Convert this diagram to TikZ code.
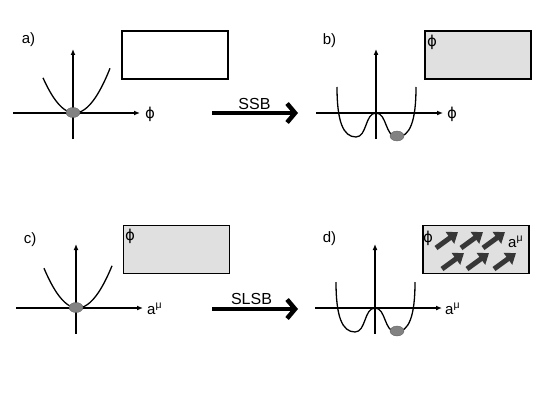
\documentclass[tikz,border=0pt]{standalone}
\usepackage{fontspec}
\setmainfont{Liberation Sans}
\newfontfamily\phifont{DejaVu Sans}
\usetikzlibrary{arrows.meta,shapes.geometric}
\definecolor{boxgray}{RGB}{224,224,224}
\definecolor{ballgray}{RGB}{130,130,130}
\definecolor{darkarrow}{RGB}{55,55,55}
\newcommand{\fphi}{{\phifont ϕ}}
\tikzset{
  axisline/.style={line width=1.6pt, -{Latex[length=6pt,width=5pt]}},
  curveline/.style={line width=1.3pt},
  ball/.style={ellipse, fill=ballgray, draw=ballgray!70!black, line width=0.3pt, minimum width=14pt, minimum height=10pt, inner sep=0pt},
  statebox/.style={draw, line width=1.6pt, minimum width=106pt, minimum height=48pt, inner sep=0pt},
  filledbox/.style={statebox, fill=boxgray},
  panellabel/.style={font=\fontsize{15}{17}\selectfont, inner sep=0pt},
  fieldlabel/.style={font=\fontsize{15}{17}\selectfont, inner sep=0pt},
  arrowlabel/.style={font=\fontsize{16}{18}\selectfont, inner sep=0pt},
  bigarrow/.style={line width=4.5pt, -{Straight Barb[length=8pt,width=19pt]}},
  vecarrow/.style={darkarrow, line width=5pt, -{Triangle[length=10pt,width=14pt]}},
}
\newcommand{\axesat}[3]{% origin x, origin y, name prefix
  \begin{scope}[shift={(#1,#2)}]
    \coordinate (#3o) at (0,0);
    \coordinate (#3vb) at (0,26);
    \coordinate (#3vt) at (0,-64);
    \coordinate (#3hl) at (-60,0);
    \coordinate (#3hr) at (67,0);
    \draw[axisline] (#3vb) -- (#3vt);
    \draw[axisline] (#3hl) -- (#3hr);
  \end{scope}}
\newcommand{\doublewell}[2]{%
  \draw[curveline, shift={(#1,#2)}] (-39,-26) .. controls (-39,8) and (-33,24) .. (-20,24)
   .. controls (-9,24) and (-11,0) .. (0,0)
   .. controls (11,0) and (9,24) .. (21,24)
   .. controls (34,24) and (40,8) .. (40,-26);}
\begin{document}
\begin{tikzpicture}[x=1pt,y=-1pt]
\useasboundingbox (0,0) rectangle (545,409);

% ---------- panel a ----------
\node[panellabel] (la) at (28.5,40) {a)};
\axesat{73}{113}{a}
\draw[curveline, shift={(74.5,113)}] plot[domain=-31.5:35.5, samples=50] (\x, {-41*(\x/34)^2});
\node[ball] (balla) at (73,112.5) {};
\node[fieldlabel] (phia) at (150,114) {\fphi};
\node[statebox] (boxa) at (175,55) {};

% ---------- panel b ----------
\node[panellabel] (lb) at (329.5,41) {b)};
\axesat{376}{113}{b}
\doublewell{376}{113}
\node[ball] (ballb) at (397,136) {};
\node[fieldlabel] (phib) at (452,114) {\fphi};
\node[filledbox] (boxb) at (478,55) {};
\node[fieldlabel] (phiboxb) at (432,42) {\fphi};

% ---------- panel c ----------
\node[panellabel] (lc) at (30,240) {c)};
\axesat{76}{308}{c}
\draw[curveline, shift={(77.5,308)}] plot[domain=-33.5:34.5, samples=50] (\x, {-41*(\x/34)^2});
\node[ball] (ballc) at (76,307.5) {};
\node[fieldlabel, anchor=base west] (ac) at (147,314) {a\textsuperscript{μ}};
\node[filledbox] (boxc) at (176.5,249.5) {};
\node[fieldlabel] (phiboxc) at (130,236) {\fphi};

% ---------- panel d ----------
\node[panellabel] (ld) at (329.5,239) {d)};
\axesat{375}{308}{d}
\doublewell{375}{308}
\node[ball] (balld) at (397,331) {};
\node[fieldlabel, anchor=base west] (ad) at (445,314) {a\textsuperscript{μ}};
\node[filledbox] (boxd) at (476,249.5) {};
\node[fieldlabel] (phiboxd) at (428,238) {\fphi};
\node[fieldlabel, anchor=base west] (aboxd) at (508,247) {a\textsuperscript{μ}};
% field arrows
\coordinate (v1s) at (436,248); \coordinate (v1e) at (458,232);
\coordinate (v2s) at (461,248); \coordinate (v2e) at (483,232);
\coordinate (v3s) at (483,248); \coordinate (v3e) at (505,232);
\coordinate (v4s) at (442,269); \coordinate (v4e) at (464,253);
\coordinate (v5s) at (467,269); \coordinate (v5e) at (489,253);
\coordinate (v6s) at (494,269); \coordinate (v6e) at (516,253);
\foreach \i in {1,...,6} \draw[vecarrow] (v\i s) -- (v\i e);

% ---------- transition arrows ----------
\coordinate (ssbs) at (212,113);
\coordinate (ssbe) at (298,113);
\draw[bigarrow] (ssbs) -- (ssbe);
\node[arrowlabel, anchor=base] (ssb) at (254.5,109) {SSB};

\coordinate (slsbs) at (212,309);
\coordinate (slsbe) at (298,309);
\draw[bigarrow] (slsbs) -- (slsbe);
\node[arrowlabel, anchor=base] (slsb) at (251.5,304) {SLSB};
\end{tikzpicture}
\end{document}
